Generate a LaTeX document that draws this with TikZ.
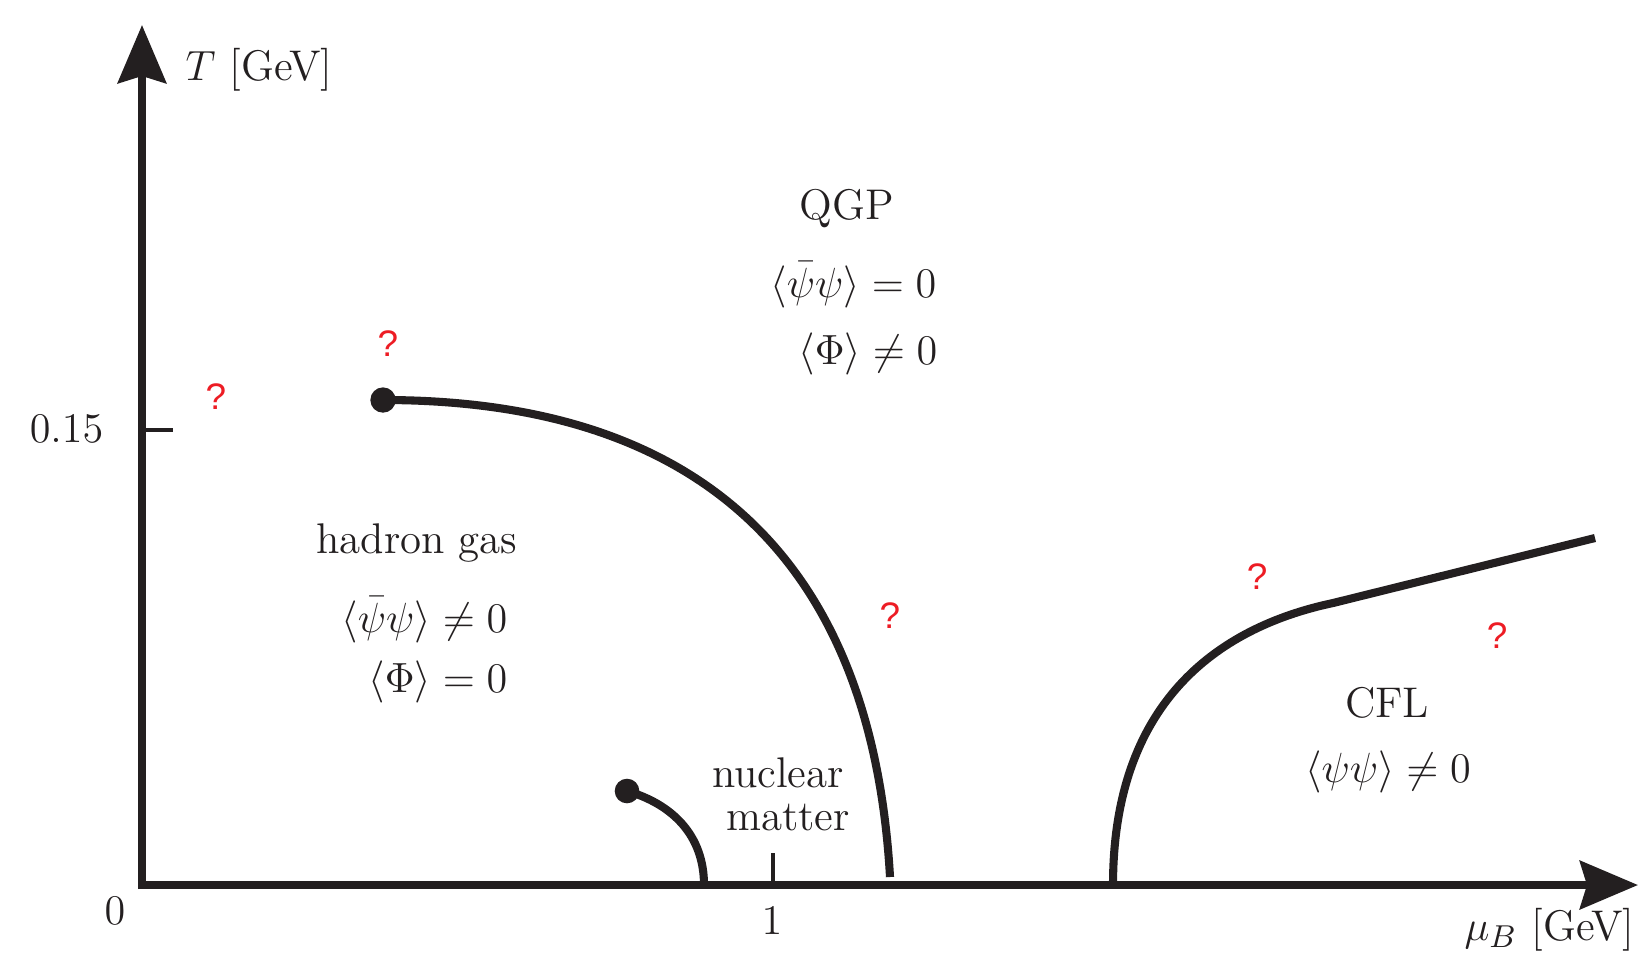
\documentclass[tikz,border=0pt]{standalone}
\usepackage{fontspec}
\newfontfamily\qfont{Liberation Sans}
\usetikzlibrary{arrows.meta}
\definecolor{ink}{HTML}{231F20}
\definecolor{qred}{HTML}{ED1C24}
\begin{document}
\begin{tikzpicture}[x=0.01cm,y=-0.01cm,
  font=\fontsize{12.2}{14}\selectfont,
  axis/.style={line width=2.3pt, draw=ink, -{Stealth[length=16.5pt,width=13.7pt,inset=2pt]}},
  phase/.style={line width=2.3pt, draw=ink},
  tickmark/.style={line width=1.2pt, draw=ink},
  lab/.style={inner sep=0pt, text=ink},
  qm/.style={inner sep=0pt, text=qred, font=\qfont\fontsize{10.5}{12}\selectfont}]
\useasboundingbox (0,0) rectangle (1646,969);
% axes
\coordinate (ybot) at (142,889);
\coordinate (xleft) at (138,885);
\coordinate (Ttip) at (142,25);
\coordinate (Mtip) at (1638,885);
\draw[axis] (ybot) -- (Ttip);
\draw[axis] (xleft) -- (Mtip);
% ticks
\coordinate (t15a) at (142,430);
\coordinate (t15b) at (173,430);
\coordinate (t1a) at (773,885);
\coordinate (t1b) at (773,853);
\draw[tickmark] (t15a) -- (t15b);
\draw[tickmark] (t1a) -- (t1b);
% axis labels
\node[lab, anchor=base west] (Tlab) at (185,80) {$T$ [GeV]};
\node[lab, anchor=base east] (mulab) at (1635,940) {$\mu_B$ [GeV]};
\node[lab] (zero) at (115,911) {$0$};
\node[lab] (one) at (772,921) {$1$};
\node[lab, anchor=base east] (t15) at (104,442) {$0.15$};
% phase boundaries
\coordinate (cep) at (383,400);
\coordinate (cepend) at (890,877);
\draw[phase] (cep) .. controls (700,400) and (872,560) .. (cepend);
\fill[ink] (cep) circle[radius=3.6pt];
\coordinate (nm) at (627,791);
\coordinate (nmend) at (704,885);
\draw[phase] (nm) .. controls (672,804) and (704,835) .. (nmend);
\fill[ink] (nm) circle[radius=3.5pt];
\coordinate (cflbot) at (1113,885);
\coordinate (kink) at (1333,603);
\coordinate (cflend) at (1595,538);
\draw[phase] (cflbot) .. controls (1113,705) and (1215,628) .. (kink) -- (cflend);
% region labels
\node[lab, anchor=base] (qgp) at (847,219) {QGP};
\node[lab, anchor=base east] (qgp1) at (937,297) {$\langle\bar\psi\psi\rangle = 0$};
\node[lab, anchor=base east] (qgp2) at (938,364) {$\langle\Phi\rangle \neq 0$};
\node[lab, anchor=base] (hg) at (417,553) {hadron gas};
\node[lab, anchor=base east] (hg1) at (508,632) {$\langle\bar\psi\psi\rangle \neq 0$};
\node[lab, anchor=base east] (hg2) at (508,692) {$\langle\Phi\rangle = 0$};
\node[lab, anchor=base] (nuc1) at (778,787) {nuclear};
\node[lab, anchor=base] (nuc2) at (788,830) {matter};
\node[lab, anchor=base] (cfl) at (1387,717) {CFL};
\node[lab, anchor=base] (cfl1) at (1388,782) {$\langle\psi\psi\rangle \neq 0$};
% question marks
\node[qm] (q1) at (388,344) {?};
\node[qm] (q2) at (216,397) {?};
\node[qm] (q3) at (890,616) {?};
\node[qm] (q4) at (1257,577) {?};
\node[qm] (q5) at (1497,636) {?};
\end{tikzpicture}
\end{document}
